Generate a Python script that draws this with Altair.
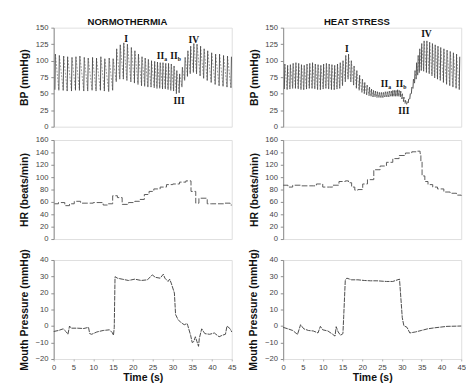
import altair as alt
import pandas as pd

# ---------------- data ----------------
# Normothermia beat-by-beat BP
nt_t = [0.3, 1.3, 2.4, 3.4, 4.5, 5.5, 6.5, 7.6, 8.6, 9.7, 10.7, 11.8, 12.8, 13.9, 14.9,
        15.8, 16.7, 17.6, 18.5, 19.5, 20.4, 21.3, 22.2, 23.0, 23.8, 24.6, 25.4, 26.1, 26.8,
        27.5, 28.2, 28.9, 29.6, 30.3, 31.0, 31.7, 32.4,
        33.1, 33.8, 34.5, 35.3, 36.1, 37.0, 37.9, 38.8, 39.8, 40.8, 41.8, 42.8, 43.8, 44.8]
nt_sys = [110, 108, 107, 106, 105, 106, 107, 105, 104, 105, 104, 106, 103, 104, 103,
          118, 124, 127, 125, 120, 115, 110, 106, 104, 102, 100, 99, 98, 97,
          97, 96, 96, 95, 92, 85, 80, 90,
          105, 115, 122, 126, 125, 122, 118, 115, 112, 110, 110, 108, 107, 106]
nt_dia = [56, 55, 55, 54, 54, 55, 55, 54, 54, 55, 54, 55, 54, 53, 55,
          68, 72, 72, 70, 68, 66, 64, 62, 61, 60, 60, 59, 58, 58,
          57, 57, 56, 55, 54, 50, 51, 60,
          70, 76, 80, 82, 80, 77, 73, 70, 67, 64, 62, 61, 60, 59]

# Heat stress beat-by-beat BP
hs_t = [0.3, 1.0, 1.7, 2.4, 3.1, 3.8, 4.5, 5.2, 5.9, 6.6, 7.3, 8.0, 8.7, 9.4, 10.1, 10.8,
        11.5, 12.2, 12.9, 13.6, 14.3,
        15.0, 15.7, 16.4, 17.1, 17.8, 18.5, 19.2, 19.9, 20.5, 21.1, 21.7,
        22.2, 22.7, 23.2, 23.7, 24.2, 24.7, 25.2, 25.7, 26.2, 26.7, 27.2,
        27.6, 28.0, 28.4, 28.8, 29.2, 29.6, 30.0, 30.4, 30.8, 31.2, 31.6, 32.0, 32.4, 32.8,
        33.2, 33.6, 34.0, 34.4,
        34.9, 35.5, 36.2, 36.9, 37.6, 38.3, 39.0, 39.7,
        40.5, 41.3, 42.1, 42.9, 43.7, 44.5]
hs_sys = [95, 93, 94, 96, 97, 96, 94, 93, 95, 96, 97, 95, 94, 93, 95, 96,
          95, 94, 93, 95, 97,
          100, 108, 110, 100, 92, 85, 78, 72, 67, 63, 60,
          57, 55, 54, 53, 52, 52, 52, 53, 53, 54, 54,
          55, 55, 55, 56, 55, 54, 50, 45, 40, 38, 42, 50, 60, 72,
          85, 97, 108, 118,
          126, 130, 130, 128, 126, 124, 122, 120,
          118, 116, 114, 112, 110, 106]
hs_dia = [57, 56, 57, 58, 58, 57, 56, 56, 57, 58, 58, 57, 56, 56, 57, 58,
          57, 56, 56, 57, 58,
          62, 68, 72, 68, 63, 58, 55, 52, 50, 48, 47,
          46, 45, 45, 44, 44, 44, 44, 45, 45, 45, 46,
          46, 46, 46, 46, 46, 45, 42, 38, 35, 34, 36, 42, 50, 58,
          66, 72, 78, 82,
          85, 84, 82, 80, 77, 74, 72, 70,
          67, 64, 62, 60, 58, 56]

# Heart rate
nt_hr_t = [0.2, 1.2, 2.8, 4.0, 5.2, 6.8, 8.4, 10.0, 11.7, 12.5, 13.7, 14.9, 16.1, 17.3,
           18.9, 20.5, 21.7, 22.9, 24.1, 25.3, 26.9, 28.5, 30.1, 31.8, 33.4, 34.7, 35.9,
           36.7, 38.8, 39.8, 41.4, 43.0, 44.6, 45.0]
nt_hr = [57, 59, 54, 57, 61, 58, 58, 59, 59, 55, 57, 70, 67, 56,
         59, 61, 64, 72, 77, 81, 84, 88, 89, 92, 94, 77, 58,
         66, 57, 57, 57, 58, 55, 55]
hs_hr_t = [0.0, 1.2, 2.4, 4.4, 7.6, 8.4, 10.0, 11.7, 12.5, 14.1, 15.7, 16.5, 17.3, 18.1,
           18.9, 20.1, 21.3, 22.9, 24.5, 26.1, 27.7, 29.3, 30.9, 32.5, 33.8, 34.6, 34.8,
           35.1, 35.8, 36.6, 37.8, 39.0, 40.6, 42.2, 43.8, 45.0]
hs_hr = [87, 84, 87, 86, 86, 89, 84, 84, 87, 93, 94, 91, 84, 79,
         80, 89, 96, 112, 118, 124, 130, 135, 139, 141, 142, 138, 126,
         102, 93, 88, 84, 81, 76, 74, 71, 70]

# Mouth pressure
nt_mp_t = [0.0, 1.2, 2.4, 3.2, 3.6, 4.0, 4.4, 6.0, 7.6, 8.8, 9.1, 9.6, 10.9, 12.5, 14.1,
           14.8, 15.1, 15.3, 15.5, 16.1, 17.3, 18.9, 20.5, 22.1, 23.7, 24.9, 25.7, 26.9,
           27.7, 28.1, 28.9, 29.3, 29.7, 30.5, 30.8, 31.4, 32.2, 33.0, 33.7, 33.9, 34.6,
           35.0, 35.4, 35.8, 36.2, 36.6, 36.8, 37.4, 38.2, 39.4, 40.6, 41.0, 41.8, 42.6,
           43.4, 43.8, 44.6, 45.0]
nt_mp = [-3.3, -2.7, -1.7, -3.6, -5.0, 0.0, -1.3, -1.3, -1.5, -0.8, -4.6, -5.0, -3.6,
         -2.7, -2.3, -4.0, -5.6, -1.0, 29.9, 29.0, 28.4, 27.6, 28.4, 27.6, 28.0, 31.0,
         29.5, 29.0, 31.4, 29.0, 27.0, 28.4, 26.0, 20.0, 7.0, 4.0, 2.0, 0.8, 1.5, 0.2,
         -5.6, -10.0, -9.4, -6.5, -9.4, -12.3, -7.5, -1.7, -4.6, -5.0, -4.2, -5.0, -6.5,
         -5.6, -5.0, 0.0, -1.7, -3.6]
hs_mp_t = [0.0, 1.2, 2.4, 3.2, 3.6, 4.4, 5.2, 6.4, 7.6, 8.8, 9.4, 10.0, 11.3, 12.5, 13.1,
           13.4, 13.9, 14.5, 15.1, 15.3, 15.7, 16.1, 17.3, 18.9, 20.5, 22.1, 23.7, 26.1,
           27.7, 29.4, 30.1, 30.5, 31.3, 32.0, 33.4, 34.9, 36.5, 38.2, 41.4, 45.0]
hs_mp = [-0.8, -1.7, -2.7, -4.2, -5.2, 0.8, -1.7, -2.7, -3.0, -4.2, -0.2, -2.3, -3.0,
         -5.0, -6.1, -0.4, -3.6, -5.6, -4.6, 6.0, 28.0, 29.0, 28.0, 28.0, 27.6, 27.4,
         27.4, 27.0, 27.0, 28.4, 5.0, 0.2, -0.8, -4.2, -3.6, -2.7, -1.7, -1.1, -0.2, 0.0]

# Phase annotations: label, time, BP
nt_lab = ["I", "II", "II", "III", "IV"]
nt_sub = ["", "a", "b", "", ""]
nt_lab_t = [18.3, 27.0, 30.4, 31.7, 35.4]
nt_lab_y = [132, 107, 107, 38, 131]
hs_lab = ["I", "II", "II", "III", "IV"]
hs_sub = ["", "a", "b", "", ""]
hs_lab_t = [16.1, 25.6, 29.4, 30.5, 36.2]
hs_lab_y = [118, 64, 65, 24, 140]

titles = ["NORMOTHERMIA", "HEAT STRESS"]
x_ticks = [0, 5, 10, 15, 20, 25, 30, 35, 40, 45]
bp_ticks = [0, 25, 50, 75, 100, 125, 150]
hr_ticks = [0, 20, 40, 60, 80, 100, 120, 140, 160]
mp_ticks = [-20, -10, 0, 10, 20, 30, 40]

# ---------------- chart ----------------
W, H = 187, 104
FONT = "Liberation Sans"
xscale = alt.Scale(domain=[0, 45], nice=False, zero=False)


def yaxis(title, values):
    return alt.Axis(title=title, values=values, grid=False, domainColor="#8a8a8a",
                    tickColor="#8a8a8a", tickSize=3, labelFontSize=8, labelColor="#444",
                    labelFont=FONT, titleFont=FONT, titleFontSize=11, titleFontWeight="bold",
                    titleColor="#111", labelPadding=3, titlePadding=6, labelOverlap=False)


def xaxis_none():
    return alt.Axis(title=None, labels=False, ticks=False, domain=False, grid=False)


def xaxis_time():
    return alt.Axis(title="Time (s)", values=x_ticks, grid=False, domain=False,
                    tickColor="#aaa", tickSize=2, labelFontSize=8, labelColor="#444",
                    labelFont=FONT, titleFont=FONT, titleFontSize=11, titleFontWeight="bold",
                    titleColor="#111", labelPadding=3, titlePadding=1, labelFlush=False)


def bp_panel(t, sys, dia, lab, sub, lt, ly):
    tp = [v + 0.12 for v in t]
    up = pd.DataFrame({"x": t, "y": dia, "x2": tp, "y2": sys})
    down = pd.DataFrame({"x": tp[:-1], "y": sys[:-1], "x2": t[1:], "y2": dia[1:]})
    ann = pd.DataFrame({"x": lt, "y": ly, "lab": lab, "sub": sub})
    yscale = alt.Scale(domain=[0, 150], nice=False)
    X = alt.X("x:Q", scale=xscale, axis=xaxis_none())
    Y = alt.Y("y:Q", scale=yscale, axis=yaxis("BP (mmHg)", bp_ticks))
    base_up = alt.Chart(up).mark_rule(color="#4a4a4a", strokeWidth=1).encode(
        x=X, y=Y, x2="x2:Q", y2="y2:Q")
    base_down = alt.Chart(down).mark_rule(color="#999", strokeWidth=1,
                                          strokeDash=[2, 1.5]).encode(
        x=X, y=Y, x2="x2:Q", y2="y2:Q")
    txt = alt.Chart(ann).mark_text(font="Liberation Serif", fontWeight="bold", fontSize=10,
                                   color="#111", baseline="middle").encode(
        x=X, y=Y, text="lab:N")
    stxt = alt.Chart(ann).mark_text(font="Liberation Serif", fontWeight="bold", fontSize=6,
                                    color="#111", baseline="middle", align="left",
                                    dx=4, dy=3).encode(
        x=X, y=Y, text="sub:N")
    return alt.layer(base_down, base_up, txt, stxt).properties(width=W, height=H)


def hr_panel(t, v):
    df = pd.DataFrame({"x": t, "y": v})
    return alt.Chart(df).mark_line(color="#555", strokeWidth=1, interpolate="step-after",
                                   strokeDash=[6, 2]).encode(
        x=alt.X("x:Q", scale=xscale, axis=xaxis_none()),
        y=alt.Y("y:Q", scale=alt.Scale(domain=[0, 160], nice=False),
                axis=yaxis("HR (beats/min)", hr_ticks))
    ).properties(width=W, height=H)


def mp_panel(t, v):
    df = pd.DataFrame({"x": t, "y": v})
    return alt.Chart(df).mark_line(color="#444", strokeWidth=1, strokeDash=[5, 1]).encode(
        x=alt.X("x:Q", scale=xscale, axis=xaxis_time()),
        y=alt.Y("y:Q", scale=alt.Scale(domain=[-20, 40], nice=False),
                axis=yaxis("Mouth Pressure (mmHg)", mp_ticks))
    ).properties(width=W, height=H)


def column(title, bp, hr, mp):
    return alt.vconcat(bp, hr, mp, spacing=4).properties(
        title=alt.TitleParams(title, font=FONT, fontSize=10, fontWeight="bold", color="#111",
                              anchor="middle", offset=-4))


left = column(titles[0],
              bp_panel(nt_t, nt_sys, nt_dia, nt_lab, nt_sub, nt_lab_t, nt_lab_y),
              hr_panel(nt_hr_t, nt_hr), mp_panel(nt_mp_t, nt_mp))
right = column(titles[1],
               bp_panel(hs_t, hs_sys, hs_dia, hs_lab, hs_sub, hs_lab_t, hs_lab_y),
               hr_panel(hs_hr_t, hs_hr), mp_panel(hs_mp_t, hs_mp))

chart = alt.hconcat(left, right, spacing=11).configure_view(stroke=None).configure(
    padding={"left": 10, "top": 0, "right": 0, "bottom": 0})

chart.save("out.html", embed_options={"renderer": "svg", "actions": False})
